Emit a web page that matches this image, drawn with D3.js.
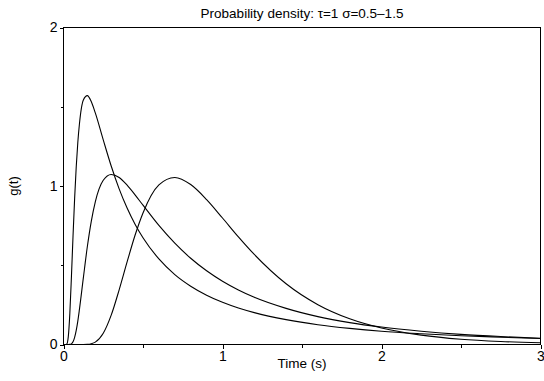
<!DOCTYPE html>
<html>
<head>
<meta charset="utf-8">
<script src="https://cdn.jsdelivr.net/npm/d3@7"></script>
<style>
  body { margin: 0; background: #fff; }
  svg { display: block; font-family: "Liberation Sans", Arial, sans-serif; }
  .axis path, .axis line { stroke: #000; shape-rendering: crispEdges; }
  .axis text { font-size: 14px; fill: #000; }
  .curve { fill: none; stroke: #000; stroke-width: 1.1; }
</style>
</head>
<body>
<div id="chart"></div>
<script>
// sample times (s) and density values
var times = [0, 0.01, 0.02, 0.03, 0.04, 0.05, 0.06, 0.07, 0.08, 0.09, 0.1,
  0.125, 0.15, 0.175, 0.2, 0.25, 0.3, 0.35, 0.4, 0.45, 0.5,
  0.6, 0.7, 0.8, 0.9, 1.0, 1.1, 1.2, 1.4, 1.6, 1.8, 2.0,
  2.25, 2.5, 2.75, 3.0];

var sigma15 = [0, 0, 0.002, 0.048, 0.199, 0.431, 0.686, 0.922, 1.120, 1.275, 1.390,
  1.543, 1.570, 1.531, 1.461, 1.291, 1.126, 0.982, 0.861, 0.759, 0.673,
  0.540, 0.441, 0.368, 0.311, 0.266, 0.230, 0.201, 0.157, 0.125, 0.102, 0.084,
  0.068, 0.055, 0.046, 0.038];

var sigma10 = [0, 0, 0, 0, 0.0005, 0.004, 0.017, 0.045, 0.089, 0.148, 0.220,
  0.422, 0.618, 0.779, 0.900, 1.036, 1.073, 1.054, 1.005, 0.944, 0.879,
  0.751, 0.639, 0.544, 0.465, 0.399, 0.344, 0.298, 0.228, 0.176, 0.138, 0.110,
  0.084, 0.064, 0.050, 0.039];

var sigma05 = [0, 0, 0, 0, 0, 0, 0, 0, 0, 0, 0,
  0.0001, 0.001, 0.005, 0.015, 0.071, 0.185, 0.345, 0.521, 0.689, 0.830,
  1.007, 1.054, 1.009, 0.914, 0.798, 0.679, 0.568, 0.383, 0.251, 0.162, 0.104,
  0.059, 0.033, 0.019, 0.011];

var xTicks = [0, 1, 2, 3],
    xMinor = [0.5, 1.5, 2.5],
    yTicks = [0, 1, 2],
    yMinor = [0.5, 1.5];

var title = "Probability density: \u03c4=1 \u03c3=0.5\u20131.5";

var width = 544, height = 381,
    margin = {top: 27.5, right: 3.5, bottom: 36.5, left: 63.5},
    w = width - margin.left - margin.right,
    h = height - margin.top - margin.bottom;

var svg = d3.select("#chart").append("svg")
    .attr("width", width)
    .attr("height", height);

var g = svg.append("g")
    .attr("transform", "translate(" + margin.left + "," + margin.top + ")");

var x = d3.scaleLinear().domain([0, 3]).range([0, w]);
var y = d3.scaleLinear().domain([0, 2]).range([h, 0]);

// frame
g.append("rect")
    .attr("width", w).attr("height", h)
    .attr("fill", "none").attr("stroke", "#000")
    .attr("shape-rendering", "crispEdges");

// curves
var line = d3.line()
    .x(function(d) { return x(d[0]); })
    .y(function(d) { return y(d[1]); })
    .curve(d3.curveMonotoneX);

[sigma15, sigma10, sigma05].forEach(function(s) {
  g.append("path")
    .attr("class", "curve")
    .attr("d", line(times.map(function(t, i) { return [t, s[i]]; })));
});

// x axis
g.append("g")
    .attr("class", "axis")
    .attr("transform", "translate(0," + h + ")")
    .call(d3.axisBottom(x).tickValues(xTicks).tickSize(4).tickPadding(3).tickFormat(d3.format("d")))
    .call(function(a) { a.select(".domain").remove(); });

g.append("g")
    .attr("class", "axis")
    .attr("transform", "translate(0," + h + ")")
    .call(d3.axisBottom(x).tickValues(xMinor).tickSize(3).tickFormat(""))
    .call(function(a) { a.select(".domain").remove(); });

// y axis
g.append("g")
    .attr("class", "axis")
    .call(d3.axisLeft(y).tickValues(yTicks).tickSize(4).tickPadding(2).tickFormat(d3.format("d")))
    .call(function(a) { a.select(".domain").remove(); });

g.append("g")
    .attr("class", "axis")
    .call(d3.axisLeft(y).tickValues(yMinor).tickSize(3).tickFormat(""))
    .call(function(a) { a.select(".domain").remove(); });

// labels
svg.append("text")
    .attr("x", margin.left + w / 2)
    .attr("y", 18)
    .attr("text-anchor", "middle")
    .style("font-size", "13.5px")
    .text(title);

svg.append("text")
    .attr("x", margin.left + w / 2)
    .attr("y", 368)
    .attr("text-anchor", "middle")
    .style("font-size", "13.5px")
    .text("Time (s)");

svg.append("text")
    .attr("transform", "translate(18," + (margin.top + h / 2) + ") rotate(-90)")
    .attr("text-anchor", "middle")
    .style("font-size", "13px")
    .text("g(t)");
</script>
</body>
</html>
